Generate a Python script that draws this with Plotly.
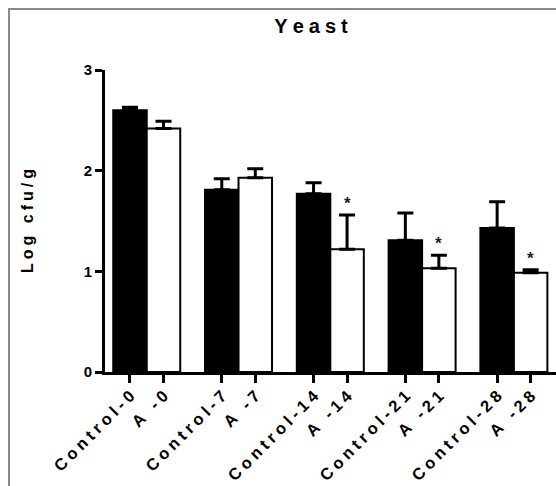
import plotly.graph_objects as go

# Values (Log cfu/g), upper error bars only
DAYS = ["0", "7", "14", "21", "28"]
CONTROL_LABELS = ["Control-" + d for d in DAYS]
A_LABELS = ["A -" + d for d in DAYS]
CONTROL_MEAN = [2.60, 1.81, 1.77, 1.31, 1.43]
CONTROL_ERR = [0.03, 0.11, 0.11, 0.27, 0.26]
A_MEAN = [2.42, 1.93, 1.22, 1.03, 0.985]
A_ERR = [0.07, 0.09, 0.34, 0.13, 0.03]
A_SIGNIF = [False, False, True, True, True]

GROUP_STEP = 2.74  # distance between day groups, in bar widths
FONT = "Liberation Sans, Arial, sans-serif"
SP = "\u2005"  # four-per-em space, mimics the Prism letter spacing


def spaced(s):
    return SP.join(s)


x_ctrl = [i * GROUP_STEP for i in range(len(DAYS))]
x_a = [x + 1 for x in x_ctrl]

fig = go.Figure()
fig.add_trace(go.Bar(
    x=x_ctrl, y=CONTROL_MEAN, width=1,
    marker=dict(color="black", line=dict(color="black", width=2)),
    error_y=dict(type="data", array=CONTROL_ERR, arrayminus=[0] * len(DAYS), symmetric=False,
                 color="black", thickness=3, width=8),
))
fig.add_trace(go.Bar(
    x=x_a, y=A_MEAN, width=1,
    marker=dict(color="white", line=dict(color="black", width=2)),
    error_y=dict(type="data", array=A_ERR, arrayminus=[0] * len(DAYS), symmetric=False,
                 color="black", thickness=3, width=8),
))

# significance stars
for x, m, e, s in zip(x_a, A_MEAN, A_ERR, A_SIGNIF):
    if s:
        fig.add_annotation(x=x, y=m + e, text="*", showarrow=False, yanchor="bottom", yshift=0,
                           font=dict(family=FONT, size=17, color="#1c1c3c", weight="bold"))

tickvals = []
ticktext = []
for xc, xa, lc, la in zip(x_ctrl, x_a, CONTROL_LABELS, A_LABELS):
    tickvals += [xc, xa]
    ticktext += [spaced(lc), spaced(la)]

fig.update_layout(
    width=556, height=486, showlegend=False, barmode="overlay",
    paper_bgcolor="white", plot_bgcolor="white",
    margin=dict(l=105, r=0, t=70, b=114),
    title=dict(text=spaced("Yeast"), x=311 / 556, xanchor="center", xref="container",
               y=1 - 26 / 486, yanchor="middle", yref="container",
               font=dict(family=FONT, size=20, color="black", weight="bold")),
    font=dict(family=FONT, color="black"),
)

fig.update_xaxes(
    range=[-0.746, 12.717], showgrid=False, zeroline=False, automargin=False,
    showline=True, linecolor="black", linewidth=3,
    ticks="outside", ticklen=8, tickwidth=3, tickcolor="black",
    tickvals=tickvals, ticktext=ticktext, tickangle=-45, ticklabelstandoff=-3,
    tickfont=dict(family=FONT, size=16.5, color="black", weight="bold"),
)
fig.update_yaxes(
    range=[0, 3], showgrid=False, zeroline=False, automargin=False,
    showline=True, linecolor="black", linewidth=3,
    ticks="outside", ticklen=7, tickwidth=3, tickcolor="black",
    tickvals=[0, 1, 2, 3],
    tickfont=dict(family=FONT, size=15, color="black", weight="bold"),
    title=dict(text=spaced("Log cfu/g"), standoff=47,
               font=dict(family=FONT, size=16, color="black", weight="bold")),
)

# grey frame of the original figure (cropped on the right and bottom)
fig.add_shape(type="rect", xref="paper", yref="paper",
              x0=(9 - 105) / 451, x1=1.5, y0=-1, y1=(372 - 9) / 302,
              line=dict(color="#8a8a8a", width=2), fillcolor="rgba(0,0,0,0)")

fig.write_html("out.html", config={"displayModeBar": False},
               post_script="document.body.style.margin = '0px';")
